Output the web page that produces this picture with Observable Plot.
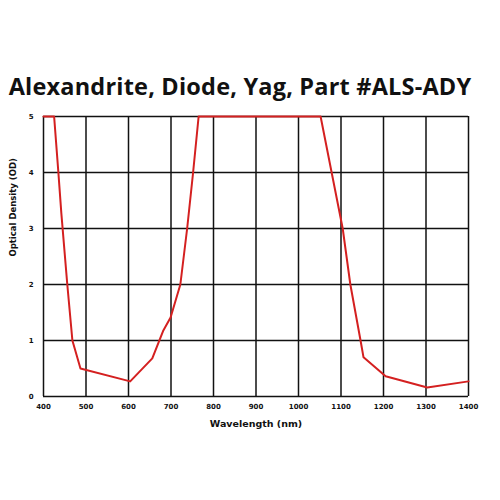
<!DOCTYPE html>
<html><head><meta charset="utf-8">
<script src="https://cdn.jsdelivr.net/npm/d3@7"></script>
<script src="https://cdn.jsdelivr.net/npm/@observablehq/plot@0.6"></script>
<style>
body{margin:0;background:#fff;width:500px;height:500px;overflow:hidden}
#title{box-sizing:border-box;text-align:center;font-family:"Open Sans",sans-serif;font-weight:bold;font-size:23.5px;color:#111;line-height:1;margin-left:-20px;padding-top:75px;height:100px;letter-spacing:0.2px}
</style></head><body>
<div id="title">Alexandrite, Diode, Yag, Part #ALS-ADY</div>
<div id="chart"></div>
<script>
const wavelength = [400, 425, 435, 442, 456, 468, 487, 604, 656, 682, 699, 722, 738, 752, 765, 1052, 1104, 1122, 1146, 1153, 1205, 1303, 1400];
const density    = [5,   5,   4,   3.27, 2,  1,   0.5, 0.27, 0.68, 1.18, 1.41, 2,  3,   4,   5,   5,    3,    2,    1,    0.7,  0.36, 0.16, 0.27];
const xTicks = [400,500,600,700,800,900,1000,1100,1200,1300,1400];
const yTicks = [0,1,2,3,4,5];
const data = wavelength.map((w,i)=>({w, od: density[i]}));
const chart = Plot.plot({
  width: 500, height: 400,
  marginTop: 16, marginBottom: 104, marginLeft: 43, marginRight: 32,
  style: {fontFamily: "'DejaVu Sans', sans-serif", fontWeight: "bold", fontSize: "7px", color: "#111"},
  x: {domain: [400, 1400], label: null},
  y: {domain: [0, 5], label: null},
  marks: [
    Plot.gridX(xTicks, {stroke: "#111", strokeOpacity: 1, strokeWidth: 1.5}),
    Plot.gridY(yTicks, {stroke: "#111", strokeOpacity: 1, strokeWidth: 1.5}),
    Plot.axisX({ticks: xTicks, tickSize: 0, tickPadding: 8, label: null, fontSize: 7, tickFormat: d3.format("d")}),
    Plot.axisY({ticks: yTicks, tickSize: 0, tickPadding: 10, label: null, fontSize: 7, tickFormat: d3.format("d")}),
    Plot.line(data, {x: "w", y: "od", stroke: "#d42020", strokeWidth: 2}),
    Plot.text(["Wavelength (nm)"], {frameAnchor: "bottom", dy: 30, fontSize: 9.5, fontWeight: "bold"}),
    Plot.text(["Optical Density (OD)"], {frameAnchor: "left", dx: -30, rotate: -90, fontSize: 8.5, fontWeight: "bold"})
  ]
});
document.getElementById("chart").appendChild(chart);
</script>
</body></html>
